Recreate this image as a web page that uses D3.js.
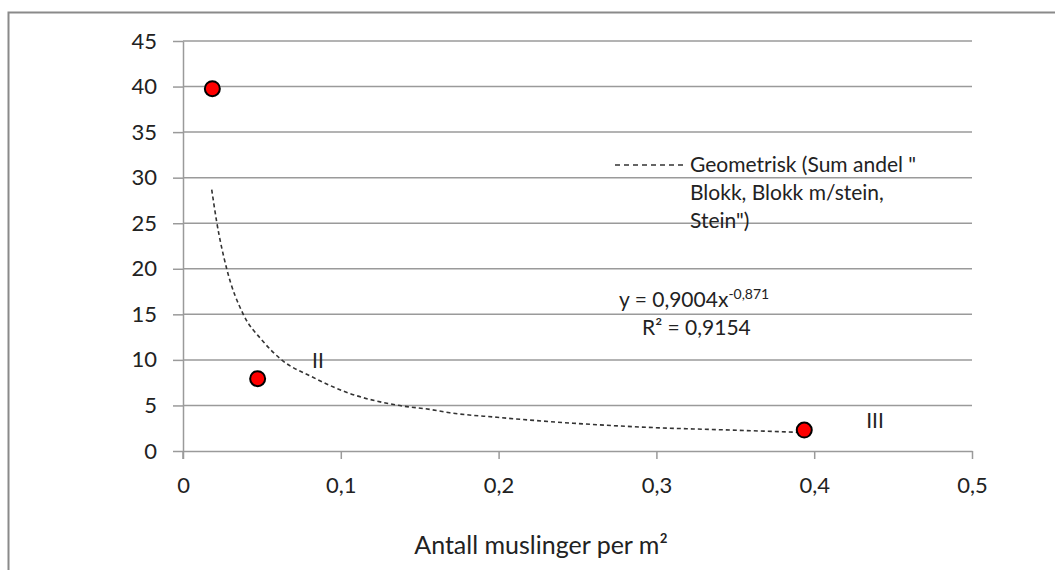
<!DOCTYPE html>
<html>
<head>
    <script src="https://cdn.jsdelivr.net/npm/d3@7/dist/d3.min.js"></script>
    <style>
        body {
            margin: 0;
            background: white;
        }
        svg text {
            font-family: Lato, "Open Sans", sans-serif;
            fill: #222;
        }
        .axis path, .axis line {
            stroke: #9a9a9a;
            stroke-width: 1.5px;
        }
        .grid line {
            stroke: #9a9a9a;
            stroke-width: 1.5px;
        }
        .trend {
            fill: none;
            stroke: #333;
            stroke-width: 1.6px;
            stroke-dasharray: 4, 3;
        }
    </style>
</head>
<body>
<div id="chart"></div>
<script>
    // measured points
    var pointX = [0.0186, 0.0473, 0.3937];
    var pointY = [39.77, 7.94, 2.3];
    // geometric trendline
    var trendX = [0.0182, 0.0213, 0.0277, 0.0382, 0.0499, 0.0625, 0.0816, 0.106, 0.135, 0.157, 0.169, 0.199, 0.247, 0.294, 0.347, 0.391];
    var trendY = [28.7, 25.2, 20.0, 15.0, 12.2, 10.0, 8.15, 6.3, 5.05, 4.55, 4.2, 3.7, 3.05, 2.6, 2.3, 2.05];
    // tick values
    var xTicks = [0, 0.1, 0.2, 0.3, 0.4, 0.5];
    var yTicks = [0, 5, 10, 15, 20, 25, 30, 35, 40, 45];
    var legendLines = ["Geometrisk (Sum andel \"", "Blokk, Blokk m/stein,", "Stein\")"];

    var W = 1055, H = 570;
    var margin = {top: 41, left: 183, right: 83, bottom: 119};
    var width = W - margin.left - margin.right,
        height = H - margin.top - margin.bottom;

    var no = d3.formatLocale({decimal: ",", thousands: " ", grouping: [3], currency: ["", " kr"]});

    var svg = d3.select("#chart").append("svg")
        .attr("width", W)
        .attr("height", H);

    // outer frame
    svg.append("rect")
        .attr("x", 8.5).attr("y", 12.5)
        .attr("width", W + 20).attr("height", H + 20)
        .attr("fill", "none")
        .attr("stroke", "#8a8a8a")
        .attr("stroke-width", 2);

    var g = svg.append("g")
        .attr("transform", "translate(" + margin.left + "," + margin.top + ")");

    var x = d3.scaleLinear().domain([0, 0.5]).range([0, width]);
    var y = d3.scaleLinear().domain([0, 45]).range([height, 0]);

    // gridlines
    g.append("g").attr("class", "grid")
        .selectAll("line")
        .data(yTicks.filter(function (d) { return d > 0; }))
        .enter().append("line")
        .attr("x1", 0).attr("x2", width)
        .attr("y1", function (d) { return y(d); })
        .attr("y2", function (d) { return y(d); });

    // x axis
    var xAxis = g.append("g").attr("class", "axis")
        .attr("transform", "translate(0," + height + ")")
        .call(d3.axisBottom(x).tickValues(xTicks).tickSize(8).tickSizeOuter(0).tickPadding(18)
            .tickFormat(function (d) { return d === 0 ? "0" : no.format(".1f")(d); }));
    xAxis.selectAll("text").style("font-size", "22px");

    // y axis
    var yAxis = g.append("g").attr("class", "axis")
        .call(d3.axisLeft(y).tickValues(yTicks).tickSize(10).tickSizeOuter(0).tickPadding(16));
    yAxis.selectAll("text").style("font-size", "22px");
    // y axis line down to the x tick
    g.append("line")
        .attr("x1", 0).attr("x2", 0)
        .attr("y1", height).attr("y2", height + 8)
        .attr("stroke", "#9a9a9a").attr("stroke-width", 1.5);

    // trendline
    var trendData = trendX.map(function (d, i) { return {x: d, y: trendY[i]}; });
    var line = d3.line()
        .x(function (d) { return x(d.x); })
        .y(function (d) { return y(d.y); })
        .curve(d3.curveMonotoneX);
    g.append("path")
        .datum(trendData)
        .attr("class", "trend")
        .attr("d", line);

    // points
    g.selectAll("circle.pt")
        .data(pointX)
        .enter().append("circle")
        .attr("class", "pt")
        .attr("cx", function (d) { return x(d); })
        .attr("cy", function (d, i) { return y(pointY[i]); })
        .attr("r", 7.5)
        .attr("fill", "#ff0000")
        .attr("stroke", "#000")
        .attr("stroke-width", 2);

    // legend
    svg.append("line")
        .attr("x1", 615).attr("x2", 686)
        .attr("y1", 165).attr("y2", 165)
        .attr("stroke", "#333").attr("stroke-width", 1.5)
        .attr("stroke-dasharray", "5,4");
    svg.selectAll("text.legend")
        .data(legendLines)
        .enter().append("text")
        .attr("class", "legend")
        .attr("x", 690)
        .attr("y", function (d, i) { return 172 + i * 28; })
        .style("font-size", "21px")
        .text(function (d) { return d; });

    // equation
    var eq = svg.append("text")
        .attr("x", 619).attr("y", 307)
        .style("font-size", "21px");
    eq.append("tspan").text("y = 0,9004x");
    eq.append("tspan").attr("dy", -8).style("font-size", "14px").text("-0,871");
    svg.append("text")
        .attr("x", 642).attr("y", 335)
        .style("font-size", "21px")
        .text("R² = 0,9154");

    // zone labels
    svg.append("text").attr("x", 318).attr("y", 368)
        .attr("text-anchor", "middle").style("font-size", "21px").text("II");
    svg.append("text").attr("x", 875).attr("y", 428)
        .attr("text-anchor", "middle").style("font-size", "21px").text("III");

    // x axis title
    svg.append("text")
        .attr("x", 541).attr("y", 554)
        .attr("text-anchor", "middle")
        .style("font-size", "25px")
        .text("Antall muslinger per m²");
</script>
</body>
</html>
